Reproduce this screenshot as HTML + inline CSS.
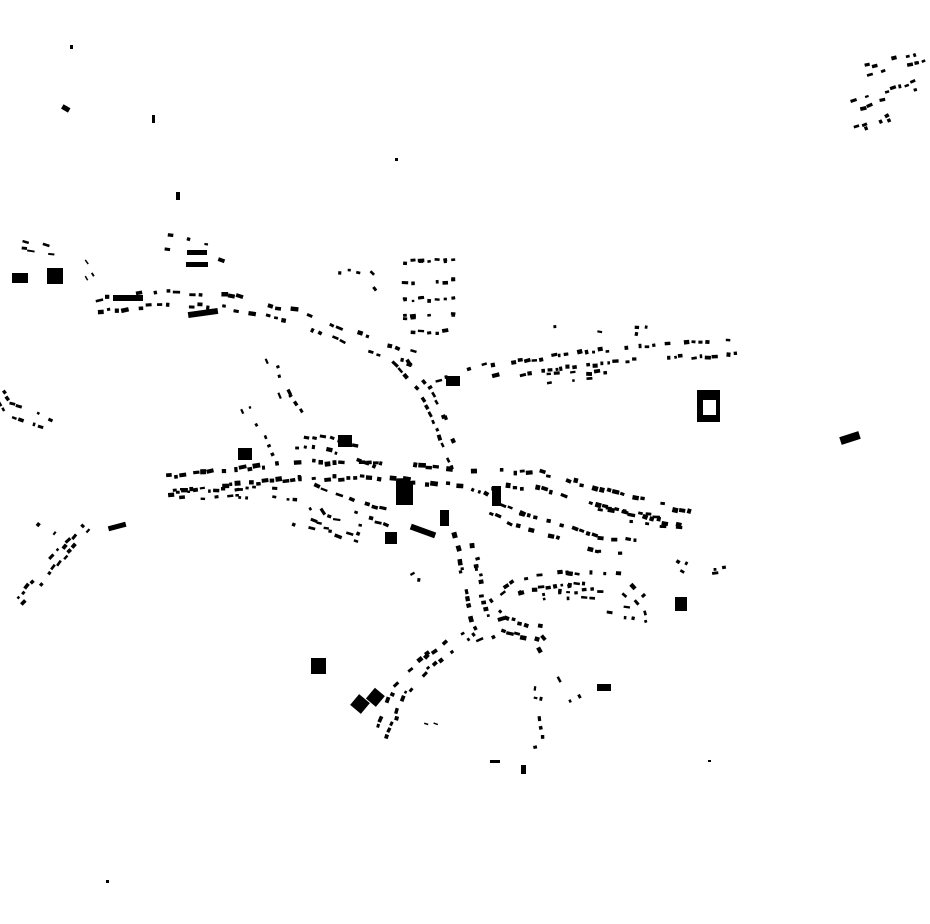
<!DOCTYPE html>
<html><head><meta charset="utf-8"><style>
html,body{margin:0;padding:0;background:#fff;}
svg{display:block;}
</style></head><body>
<svg id="m" width="930" height="924" viewBox="0 0 930 924" xmlns="http://www.w3.org/2000/svg">
<g fill="#000">
<rect x="12" y="273" width="16" height="10"/>
<rect x="47" y="268" width="16" height="16"/>
<path d="M697 390h23v32h-23z M703 400v15h13v-15z" fill-rule="evenodd"/>
<rect x="840" y="434" width="20" height="8" transform="rotate(-18 850 438)"/>
<rect x="396" y="481" width="17" height="24"/>
<rect x="311" y="658" width="15" height="16"/>
<rect x="353" y="697" width="14" height="14" transform="rotate(40 360 704)"/>
<rect x="369" y="690" width="13" height="14" transform="rotate(40 375 697)"/>
<rect x="675" y="597" width="12" height="14"/>
<rect x="597" y="684" width="14" height="7"/>
<rect x="440" y="510" width="9" height="16"/>
<rect x="492" y="486" width="9" height="20"/>
<rect x="385" y="532" width="12" height="12"/>
<rect x="113" y="295" width="30" height="6"/>
<rect x="188" y="310" width="30" height="6" transform="rotate(-8 203 313)"/>
<rect x="186" y="262" width="22" height="5"/>
<rect x="187" y="250" width="20" height="5"/>
<rect x="410" y="528" width="26" height="6" transform="rotate(20 423 531)"/>
<rect x="338" y="435" width="14" height="12"/>
<rect x="238" y="448" width="14" height="12"/>
<rect x="446" y="376" width="14" height="10"/>
<rect x="70" y="45" width="3" height="4"/>
<rect x="62" y="106" width="8" height="5" transform="rotate(30 66 108)"/>
<rect x="152" y="115" width="3" height="8"/>
<rect x="176" y="192" width="4" height="8"/>
<rect x="395" y="158" width="3" height="3"/>
<rect x="106" y="880" width="3" height="3"/>
<rect x="708" y="760" width="3" height="2"/>
<rect x="490" y="760" width="10" height="3"/>
<rect x="521" y="765" width="5" height="9"/>
<rect x="108" y="524" width="18" height="5" transform="rotate(-15 117 526)"/>
</g>
</svg>
<script>
(function(){
var s=12345;function r(){s=(s*16807)%2147483647;return s/2147483647;}
var svg=document.getElementById('m');var g=document.createElementNS('http://www.w3.org/2000/svg','g');svg.appendChild(g);
function rect(x,y,w,h,a){var e=document.createElementNS('http://www.w3.org/2000/svg','rect');e.setAttribute('x',(x-w/2).toFixed(1));e.setAttribute('y',(y-h/2).toFixed(1));e.setAttribute('width',w.toFixed(1));e.setAttribute('height',h.toFixed(1));e.setAttribute('transform','rotate('+a.toFixed(1)+' '+x.toFixed(1)+' '+y.toFixed(1)+')');g.appendChild(e);}
function line(pts,step,off,w,h,p){p*=0.72;step*=1.15;for(var i=0;i<pts.length-1;i++){var a=pts[i],b=pts[i+1];var dx=b[0]-a[0],dy=b[1]-a[1];var L=Math.sqrt(dx*dx+dy*dy);var ang=Math.atan2(dy,dx)*180/Math.PI;var nx=-dy/L,ny=dx/L;for(var t=0;t<L;t+=step){var x=a[0]+dx*t/L,y=a[1]+dy*t/L;[-1,1].forEach(function(sd){if(r()<p){var o=off*sd+(r()-.5)*4;rect(x+nx*o,y+ny*o,w*(0.5+r()*0.8),h*(0.7+r()*0.6),ang+(r()-.5)*14);}});}}}
// NW street
line([[100,305],[160,298],[230,302],[300,318],[350,338],[412,358]],7,6,6,3.5,0.8);
line([[160,240],[225,255]],8,6,6,3,0.5);
line([[25,245],[60,252]],6,4,6,2.5,0.6);
line([[80,258],[92,278]],6,3,5,2,0.6);
[262,283,300,317,333].forEach(function(y){line([[405,y],[455,y-2]],7,0,5,3,0.85);});
line([[365,270],[390,300]],6,4,4,3,0.4);
line([[340,270],[360,272]],8,2,4,3,0.4);
line([[400,360],[425,390],[440,420],[460,470]],7,6,6,3.5,0.85);
line([[440,385],[500,368]],7,6,6,3.5,0.8);
line([[515,370],[560,362],[620,355],[680,350],[740,348]],6,7,5,3.5,0.85);
line([[555,330],[600,328],[650,332]],8,5,4,3,0.5);
line([[525,380],[610,374]],7,3,5,3,0.6);
line([[862,72],[925,55]],6,4,5,3,0.8);
line([[855,105],[920,85]],6,4,5,3,0.8);
line([[858,130],[905,110]],7,2,5,3,0.7);
line([[270,360],[285,400],[300,420]],8,5,5,3,0.6);
line([[245,410],[260,440],[270,460]],8,5,4,3,0.5);
line([[290,440],[330,445],[380,460]],7,6,5,3.5,0.8);
line([[170,485],[230,478],[300,470],[380,470],[460,478],[540,480],[600,498],[690,520]],6,8,6,4,0.9);
line([[175,495],[240,492],[300,495]],6,4,5,3,0.7);
line([[300,485],[350,505],[395,520]],7,6,6,3,0.75);
line([[310,500],[320,520],[360,530]],7,5,6,3,0.7);
line([[295,520],[360,538]],8,3,6,3,0.6);
line([[470,495],[520,520],[600,545],[640,548]],6,7,5,3.5,0.8);
line([[600,512],[690,525]],7,4,6,3,0.6);
line([[460,520],[470,570],[480,620]],6,8,5,4,0.8);
line([[400,585],[420,575],[440,580]],7,5,5,3,0.5);
line([[490,610],[520,585],[570,578],[620,580],[640,600]],6,6,5,3.5,0.85);
line([[520,600],[560,595],[605,595]],7,4,5,3,0.6);
line([[610,610],[640,615],[650,640]],7,4,5,3,0.5);
line([[670,560],[690,570]],7,4,5,3,0.5);
line([[715,570],[745,568]],8,2,5,3,0.6);
line([[470,630],[430,660],[400,690],[380,740]],6,6,5,3.5,0.85);
line([[465,640],[505,625],[545,635]],6,6,6,3.5,0.8);
line([[540,640],[560,670],[575,700]],7,6,5,3.5,0.7);
line([[540,680],[535,710],[540,750]],8,3,4,3,0.6);
line([[400,715],[440,725]],8,2,4,2,0.4);
line([[0,395],[10,410],[50,425]],6,5,5,3,0.7);
line([[85,528],[60,555],[35,585],[10,610]],6,4,5,3,0.75);
line([[40,522],[60,535]],8,3,4,3,0.4);
})();
</script>
</body></html>
